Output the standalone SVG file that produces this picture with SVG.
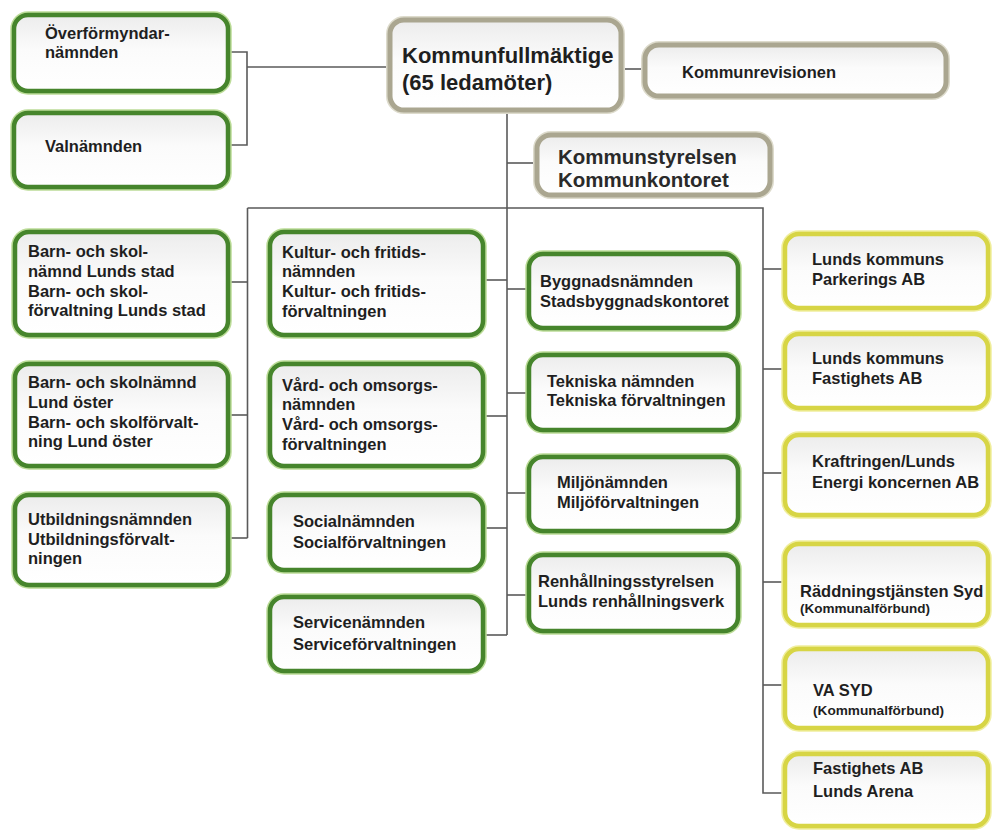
<svg xmlns="http://www.w3.org/2000/svg" width="992" height="830" viewBox="0 0 992 830">
<defs>
<linearGradient id="fillg" x1="0" y1="0" x2="0" y2="1">
<stop offset="0" stop-color="#ececec"/>
<stop offset="0.45" stop-color="#fbfbfb"/>
<stop offset="1" stop-color="#ffffff"/>
</linearGradient>
</defs>
<style>
.bx{fill:url(#fillg);stroke-width:4.5}
.g{stroke:#46852c}
.gr{stroke:#aaa690;stroke-width:5}
.y{stroke:#d7d545}
.halo-g{fill:none;stroke:#bcdc98;stroke-width:7.5}
.halo-gr{fill:none;stroke:#dddbcc;stroke-width:8}
.halo-y{fill:none;stroke:#f0ee9e;stroke-width:7.5}
text{font-family:"Liberation Sans",Arial,sans-serif;font-weight:bold;font-size:16.5px;fill:#1f1f1f}
.big{font-size:22px}
.mid{font-size:20.5px;fill:#2a2a2a}
.sm{font-size:12.5px}
.con{fill:none;stroke:#5a5a5a;stroke-width:1.6}
</style>
<rect width="992" height="830" fill="#ffffff"/>

<g id="connectors" class="con">
<path d="M230,52 H247 V145 H230"/>
<path d="M247,67 H390"/>
<path d="M621,69 H645"/>
<path d="M507,110 V635"/>
<path d="M507,163 H537"/>
<path d="M247.5,208 H763 V793 H785"/>
<path d="M247.5,208 V538"/>
<path d="M228,282 H247.5"/>
<path d="M228,415 H247.5"/>
<path d="M228,538 H247.5"/>
<path d="M483,280 H507"/>
<path d="M483,416 H507"/>
<path d="M483,528 H507"/>
<path d="M483,635 H507"/>
<path d="M507,289 H529"/>
<path d="M507,393 H529"/>
<path d="M507,493 H529"/>
<path d="M507,595 H529"/>
<path d="M763,269 H785"/>
<path d="M763,369 H785"/>
<path d="M763,473 H785"/>
<path d="M763,582 H785"/>
<path d="M763,685 H785"/>
</g>

<g id="overformyndar">
<rect class="halo-g" x="14" y="15" width="214" height="76" rx="14"/>
<rect class="bx g" x="14" y="15" width="214" height="76" rx="14"/>
<text x="45" y="39">Överförmyndar-</text>
<text x="45" y="58">nämnden</text>
</g>
<g id="valnamnden">
<rect class="halo-g" x="14" y="113" width="214" height="74" rx="14"/>
<rect class="bx g" x="14" y="113" width="214" height="74" rx="14"/>
<text x="45" y="152">Valnämnden</text>
</g>
<g id="kommunfullmaktige">
<rect class="halo-gr" x="390" y="20" width="231" height="90" rx="14"/>
<rect class="bx gr" x="390" y="20" width="231" height="90" rx="14"/>
<text class="big" x="402" y="63">Kommunfullmäktige</text>
<text class="big" x="402" y="90">(65 ledamöter)</text>
</g>
<g id="kommunrevisionen">
<rect class="halo-gr" x="645" y="45" width="301" height="51" rx="14"/>
<rect class="bx gr" x="645" y="45" width="301" height="51" rx="14"/>
<text x="682" y="78">Kommunrevisionen</text>
</g>
<g id="kommunstyrelsen">
<rect class="halo-gr" x="537" y="135" width="233" height="60" rx="14"/>
<rect class="bx gr" x="537" y="135" width="233" height="60" rx="14"/>
<text class="mid" x="558" y="164">Kommunstyrelsen</text>
<text class="mid" x="558" y="187">Kommunkontoret</text>
</g>

<g id="barn-lunds-stad">
<rect class="halo-g" x="15" y="232" width="213" height="103" rx="14"/>
<rect class="bx g" x="15" y="232" width="213" height="103" rx="14"/>
<text x="28" y="257">Barn- och skol-</text>
<text x="28" y="277">nämnd Lunds stad</text>
<text x="28" y="297">Barn- och skol-</text>
<text x="28" y="316">förvaltning Lunds stad</text>
</g>
<g id="barn-lund-oster">
<rect class="halo-g" x="15" y="364" width="213" height="102" rx="14"/>
<rect class="bx g" x="15" y="364" width="213" height="102" rx="14"/>
<text x="28" y="388">Barn- och skolnämnd</text>
<text x="28" y="408">Lund öster</text>
<text x="28" y="428">Barn- och skolförvalt-</text>
<text x="28" y="447">ning Lund öster</text>
</g>
<g id="utbildning">
<rect class="halo-g" x="15" y="495" width="213" height="90" rx="14"/>
<rect class="bx g" x="15" y="495" width="213" height="90" rx="14"/>
<text x="28" y="525">Utbildningsnämnden</text>
<text x="28" y="545">Utbildningsförvalt-</text>
<text x="28" y="564">ningen</text>
</g>

<g id="kultur">
<rect class="halo-g" x="270" y="232" width="213" height="103" rx="14"/>
<rect class="bx g" x="270" y="232" width="213" height="103" rx="14"/>
<text x="282" y="258">Kultur- och fritids-</text>
<text x="282" y="277">nämnden</text>
<text x="282" y="297">Kultur- och fritids-</text>
<text x="282" y="317">förvaltningen</text>
</g>
<g id="vard">
<rect class="halo-g" x="270" y="364" width="213" height="102" rx="14"/>
<rect class="bx g" x="270" y="364" width="213" height="102" rx="14"/>
<text x="282" y="391">Vård- och omsorgs-</text>
<text x="282" y="410">nämnden</text>
<text x="282" y="430">Vård- och omsorgs-</text>
<text x="282" y="450">förvaltningen</text>
</g>
<g id="social">
<rect class="halo-g" x="270" y="495" width="213" height="75" rx="14"/>
<rect class="bx g" x="270" y="495" width="213" height="75" rx="14"/>
<text x="293" y="527">Socialnämnden</text>
<text x="293" y="548">Socialförvaltningen</text>
</g>
<g id="service">
<rect class="halo-g" x="270" y="597" width="213" height="74" rx="14"/>
<rect class="bx g" x="270" y="597" width="213" height="74" rx="14"/>
<text x="293" y="628">Servicenämnden</text>
<text x="293" y="650">Serviceförvaltningen</text>
</g>

<g id="bygg">
<rect class="halo-g" x="529" y="254" width="209" height="74" rx="14"/>
<rect class="bx g" x="529" y="254" width="209" height="74" rx="14"/>
<text x="540" y="287">Byggnadsnämnden</text>
<text x="540" y="307">Stadsbyggnadskontoret</text>
</g>
<g id="tekniska">
<rect class="halo-g" x="529" y="355" width="209" height="75" rx="14"/>
<rect class="bx g" x="529" y="355" width="209" height="75" rx="14"/>
<text x="547" y="387">Tekniska nämnden</text>
<text x="547" y="406">Tekniska förvaltningen</text>
</g>
<g id="miljo">
<rect class="halo-g" x="529" y="457" width="209" height="74" rx="14"/>
<rect class="bx g" x="529" y="457" width="209" height="74" rx="14"/>
<text x="557" y="488">Miljönämnden</text>
<text x="557" y="508">Miljöförvaltningen</text>
</g>
<g id="renhallning">
<rect class="halo-g" x="529" y="555" width="209" height="76" rx="14"/>
<rect class="bx g" x="529" y="555" width="209" height="76" rx="14"/>
<text x="538" y="587">Renhållningsstyrelsen</text>
<text x="538" y="607">Lunds renhållningsverk</text>
</g>

<g id="parkering">
<rect class="halo-y" x="785" y="234" width="203" height="74" rx="14"/>
<rect class="bx y" x="785" y="234" width="203" height="74" rx="14"/>
<text x="812" y="265">Lunds kommuns</text>
<text x="812" y="285">Parkerings AB</text>
</g>
<g id="fastighets">
<rect class="halo-y" x="785" y="334" width="203" height="74" rx="14"/>
<rect class="bx y" x="785" y="334" width="203" height="74" rx="14"/>
<text x="812" y="364">Lunds kommuns</text>
<text x="812" y="384">Fastighets AB</text>
</g>
<g id="kraftringen">
<rect class="halo-y" x="785" y="435" width="203" height="80" rx="14"/>
<rect class="bx y" x="785" y="435" width="203" height="80" rx="14"/>
<text x="812" y="467">Kraftringen/Lunds</text>
<text x="812" y="488">Energi koncernen AB</text>
</g>
<g id="raddning">
<rect class="halo-y" x="785" y="544" width="203" height="81" rx="14"/>
<rect class="bx y" x="785" y="544" width="203" height="81" rx="14"/>
<text x="800" y="597" font-size="16.8">Räddningstjänsten Syd</text>
<text class="sm" x="800" y="613" textLength="130" lengthAdjust="spacingAndGlyphs">(Kommunalförbund)</text>
</g>
<g id="vasyd">
<rect class="halo-y" x="785" y="649" width="203" height="79" rx="14"/>
<rect class="bx y" x="785" y="649" width="203" height="79" rx="14"/>
<text x="813" y="696">VA SYD</text>
<text class="sm" x="813" y="715" textLength="131" lengthAdjust="spacingAndGlyphs">(Kommunalförbund)</text>
</g>
<g id="arena">
<rect class="halo-y" x="785" y="754" width="203" height="72" rx="14"/>
<rect class="bx y" x="785" y="754" width="203" height="72" rx="14"/>
<text x="813" y="774">Fastighets AB</text>
<text x="813" y="797">Lunds Arena</text>
</g>
</svg>
